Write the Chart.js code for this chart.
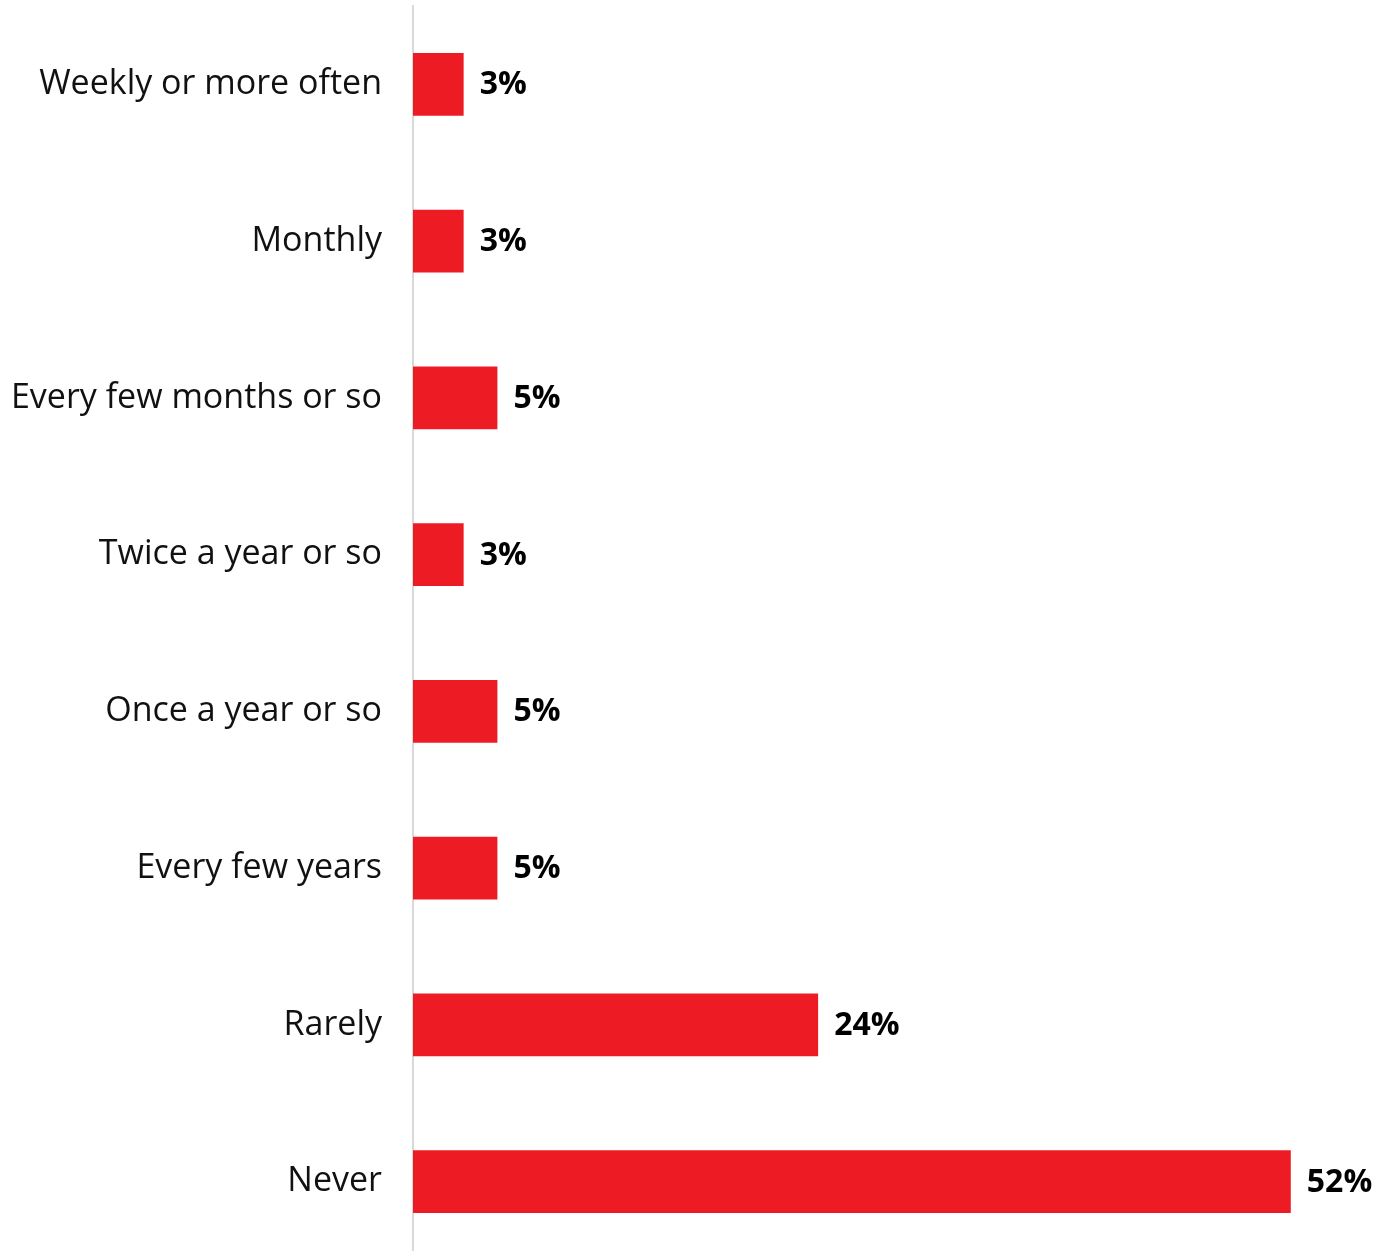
<!DOCTYPE html>
<html>
<head>
<meta charset="utf-8">
<script src="https://cdn.jsdelivr.net/npm/chart.js@4.4.1/dist/chart.umd.min.js"></script>
<style>
  html, body { margin: 0; padding: 0; background: #ffffff; overflow: hidden; }
  #wrap { position: relative; width: 1387px; height: 1260px; }
</style>
</head>
<body>
<div id="wrap"><canvas id="chart"></canvas></div>
<script>
const categories = [
  'Weekly or more often',
  'Monthly',
  'Every few months or so',
  'Twice a year or so',
  'Once a year or so',
  'Every few years',
  'Rarely',
  'Never'
];
const shares = [3, 3, 5, 3, 5, 5, 24, 52];

const BAR_RED = '#ED1C24';
const LABEL_FONT = '"Open Sans", "DejaVu Sans", sans-serif';

// Writes each bar's percentage just past its end.
const valueLabels = {
  id: 'valueLabels',
  afterDatasetsDraw(chart) {
    const ctx = chart.ctx;
    const meta = chart.getDatasetMeta(0);
    ctx.save();
    ctx.font = 'bold 32px ' + LABEL_FONT;
    ctx.fillStyle = '#000000';
    ctx.textAlign = 'left';
    ctx.textBaseline = 'middle';
    meta.data.forEach((bar, i) => {
      ctx.fillText(shares[i] + '%', bar.x + 16, bar.y + 1);
    });
    ctx.restore();
  }
};

new Chart(document.getElementById('chart'), {
  type: 'bar',
  data: {
    labels: categories,
    datasets: [{
      data: shares,
      backgroundColor: BAR_RED,
      borderWidth: 0,
      barPercentage: 0.4,
      categoryPercentage: 1.0
    }]
  },
  options: {
    indexAxis: 'y',
    responsive: true,
    maintainAspectRatio: false,
    animation: false,
    layout: { padding: { top: 6, right: 0, bottom: 0, left: 0 } },
    plugins: {
      legend: { display: false },
      tooltip: { enabled: false }
    },
    scales: {
      x: {
        display: false,
        min: 0,
        max: 57.7
      },
      y: {
        afterFit(scale) {
          scale.width = 413;
          scale.paddingTop = 0;
          scale.paddingBottom = 0;
        },
        grid: { display: false, drawTicks: false },
        border: { display: true, color: '#d9d9d9', width: 2 },
        ticks: {
          color: '#111111',
          padding: 31,
          font: { family: LABEL_FONT, size: 34, weight: '400' }
        }
      }
    }
  },
  plugins: [valueLabels]
});
</script>
</body>
</html>
